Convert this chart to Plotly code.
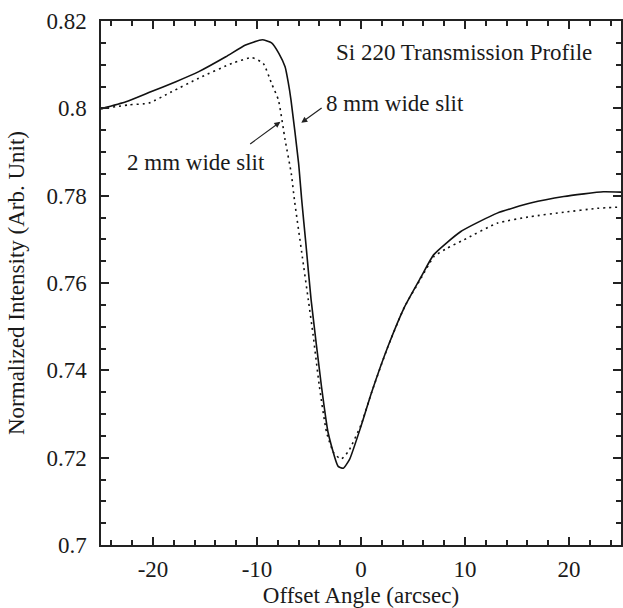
import plotly.graph_objects as go

# 8 mm wide slit (solid)
x_8mm = [-25, -22.6, -20.4, -17.8, -15.6, -13.0, -11.1, -9.5, -8.6, -7.9, -7.3, -7.0, -6.73, -6.0,
         -5.7, -5.3, -4.8, -3.8, -3.16, -2.2, -1.7, -1.1, 0, 1.0, 2.6, 4.2, 5.8, 7.0, 9.6,
         13.1, 16.3, 19.5, 23.3, 25]
y_8mm = [0.7999, 0.8015, 0.8036, 0.8061, 0.8084, 0.8118, 0.8145, 0.8157, 0.8150, 0.8126, 0.8095,
         0.8060, 0.8019, 0.7874, 0.7790, 0.7690, 0.7562, 0.7363, 0.7257, 0.7180, 0.7176, 0.7196,
         0.7272, 0.7348, 0.7455, 0.7546, 0.7615, 0.7665, 0.7718, 0.7760, 0.7783, 0.7798, 0.7809,
         0.7808]

# 2 mm wide slit (dotted)
x_2mm = [-25, -22.3, -20.4, -18.2, -15.6, -12.4, -10.5, -9.4, -8.6, -7.94, -7.3, -6.7, -6.4,
         -5.7, -5.07, -4.6, -4.0, -3.3, -2.6, -1.9, -1.2, 0, 1.0, 2.6, 4.2, 5.8, 7.0, 8.3,
         9.9, 13.1, 16.3, 19.5, 22.7, 25]
y_2mm = [0.7999, 0.8008, 0.8012, 0.8038, 0.8069, 0.8103, 0.8116, 0.8103, 0.8057, 0.8019, 0.7928,
         0.7850, 0.7790, 0.7670, 0.7562, 0.7480, 0.7363, 0.7257, 0.7210, 0.7197, 0.7215, 0.7275,
         0.7348, 0.7455, 0.7546, 0.7612, 0.7660, 0.7680, 0.7699, 0.7737, 0.7752, 0.7762, 0.7771,
         0.7774]

x_tickvals = [-20, -10, 0, 10, 20]
x_ticktext = ["-20", "-10", "0", "10", "20"]
y_tickvals = [0.70, 0.72, 0.74, 0.76, 0.78, 0.80, 0.82]
y_ticktext = ["0.7", "0.72", "0.74", "0.76", "0.78", "0.8", "0.82"]
X_RANGE = [-25, 25]
Y_RANGE = [0.70, 0.82]

FONT = "Liberation Serif"
TXT = "#1a1a1a"
LC = "#222"
FS = 23

fig = go.Figure()
fig.add_trace(go.Scatter(x=x_8mm, y=y_8mm, mode="lines",
                         line=dict(color="#111", width=1.6, shape="spline", smoothing=0.5)))
fig.add_trace(go.Scatter(x=x_2mm, y=y_2mm, mode="lines",
                         line=dict(color="#111", width=1.6, dash="2px,4px", shape="spline", smoothing=0.5)))

fig.update_xaxes(range=X_RANGE, tickmode="array", tickvals=x_tickvals, ticktext=x_ticktext,
                 ticks="inside", ticklen=8, tickwidth=2, tickcolor=LC,
                 showline=True, linecolor=LC, linewidth=1.5, mirror="allticks",
                 minor=dict(dtick=2, ticks="inside", ticklen=5, tickwidth=2, tickcolor=LC),
                 showgrid=False, zeroline=False, automargin=False,
                 tickfont=dict(family=FONT, size=FS, color=TXT), ticklabelstandoff=3,
                 title_text="Offset Angle (arcsec)",
                 title_font=dict(family=FONT, size=FS, color=TXT))
fig.update_yaxes(range=Y_RANGE, tickmode="array", tickvals=y_tickvals, ticktext=y_ticktext,
                 ticks="inside", ticklen=8, tickwidth=2, tickcolor=LC,
                 showline=True, linecolor=LC, linewidth=1.5, mirror="allticks",
                 minor=dict(dtick=0.005, ticks="inside", ticklen=5, tickwidth=2, tickcolor=LC),
                 showgrid=False, zeroline=False, automargin=False,
                 tickfont=dict(family=FONT, size=FS, color=TXT), ticklabelstandoff=8,
                 title_text="Normalized Intensity (Arb. Unit)",
                 title_font=dict(family=FONT, size=FS, color=TXT))

ann_font = dict(family=FONT, size=FS, color=TXT)
fig.add_annotation(x=9.86, y=0.8129, text="Si 220 Transmission Profile", showarrow=False, font=ann_font)
fig.add_annotation(x=3.3, y=0.8012, text="8 mm wide slit", showarrow=False, font=ann_font)
fig.add_annotation(x=-15.9, y=0.7875, text="2 mm wide slit", showarrow=False, font=ann_font)
fig.add_annotation(x=-5.74, y=0.7967, ax=-3.64, ay=0.8003, axref="x", ayref="y", text="",
                   showarrow=True, arrowhead=2, arrowsize=1, arrowwidth=1.2, arrowcolor="#222")
fig.add_annotation(x=-7.75, y=0.7969, ax=-10.8, ay=0.7916, axref="x", ayref="y", text="",
                   showarrow=True, arrowhead=2, arrowsize=1, arrowwidth=1.2, arrowcolor="#222")

fig.update_layout(width=623, height=608, margin=dict(l=101, r=2, t=21, b=63), showlegend=False,
                  font=dict(family=FONT, color=TXT),
                  paper_bgcolor="white", plot_bgcolor="white")

fig.write_html("out.html")
